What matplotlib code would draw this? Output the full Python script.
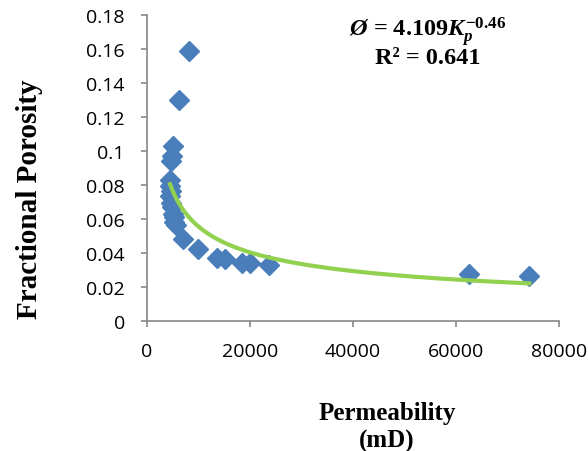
import numpy as np
import matplotlib
matplotlib.use("Agg")
import matplotlib.pyplot as plt

plt.rcParams["mathtext.fontset"] = "custom"
plt.rcParams["mathtext.rm"] = "Liberation Serif:bold"
plt.rcParams["mathtext.it"] = "Liberation Serif:bold:italic"
plt.rcParams["mathtext.bf"] = "Liberation Serif:bold"

# Data
permeability = [8100, 6150, 5000, 4800, 4700, 4500, 4400, 4600, 4500, 4700, 4800, 5000, 5200, 5300, 5700,
                7050, 9850, 13500, 15150, 18450, 19900, 23750, 62400, 74100]
porosity = [0.159, 0.130, 0.103, 0.097, 0.094, 0.083, 0.0795, 0.0765, 0.0735, 0.0696, 0.0667, 0.0628, 0.0608, 0.058, 0.0563,
            0.048, 0.0422, 0.0367, 0.0363, 0.034, 0.034, 0.033, 0.0275, 0.0261]

# power trend line as drawn
fit_coef = 3.87
fit_exp = -0.461
fit_range = (4466, 74200)

xticks = [0, 20000, 40000, 60000, 80000]
yticks = [0, 0.02, 0.04, 0.06, 0.08, 0.1, 0.12, 0.14, 0.16, 0.18]
ytick_labels = ["0", "0.02", "0.04", "0.06", "0.08", "0.1", "0.12", "0.14", "0.16", "0.18"]

fig = plt.figure(figsize=(5.88, 4.52), dpi=100)
ax = fig.add_axes([0.25, 0.288, 0.701, 0.677])

xf = np.linspace(fit_range[0], fit_range[1], 300)
ax.plot(xf, fit_coef * xf ** fit_exp, color="#92D050", lw=3, zorder=3)
ax.plot(permeability, porosity, linestyle="none", marker="D", markersize=10,
        color="#4A7EBB", markeredgecolor="#4A7EBB", zorder=2)

ax.set_xlim(0, 80000)
ax.set_ylim(0, 0.18)
ax.set_xticks(xticks)
ax.set_xticklabels([str(v) for v in xticks])
ax.set_yticks(yticks)
ax.set_yticklabels(ytick_labels)

for s in ["top", "right"]:
    ax.spines[s].set_visible(False)
for s in ["left", "bottom"]:
    ax.spines[s].set_color("#888888")
    ax.spines[s].set_linewidth(1.2)
ax.tick_params(axis="both", direction="out", length=4, width=1.2, color="#888888",
               labelsize=14)
ax.tick_params(axis="x", pad=11)
ax.tick_params(axis="y", pad=12)
for lab in ax.get_xticklabels() + ax.get_yticklabels():
    lab.set_family("Open Sans")

fig.text(0.051, 0.56, "Fractional Porosity", family="Liberation Serif", fontweight="bold",
         fontsize=21, rotation=90, ha="center", va="center")
fig.text(0.658, 0.055, "Permeability\n(mD)", family="Liberation Serif", fontweight="bold",
         fontsize=18, ha="center", va="center", linespacing=1.25)

ax.text(0.68, 0.947, r"$\mathit{Ø}$ = 4.109$\mathit{K}_{\mathit{p}}^{\mathrm{-0.46}}$",
        transform=ax.transAxes, ha="center", va="center", family="Liberation Serif",
        fontweight="bold", fontsize=17.5)
ax.text(0.68, 0.862, "R² = 0.641",
        transform=ax.transAxes, ha="center", va="center", family="Liberation Serif",
        fontweight="bold", fontsize=17.5)

fig.savefig("out.png", dpi=100)
